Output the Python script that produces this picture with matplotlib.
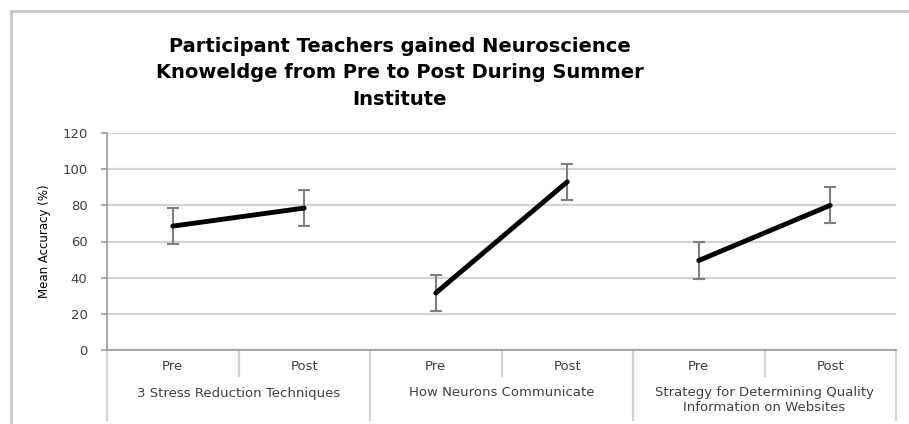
import matplotlib.pyplot as plt
from matplotlib.lines import Line2D
import numpy as np

groups = ["3 Stress Reduction Techniques", "How Neurons Communicate",
          "Strategy for Determining Quality\nInformation on Websites"]
phases = ["Pre", "Post"]
pre_vals = [68.5, 31.5, 49.5]
post_vals = [78.5, 93.0, 80.0]
pre_err = [10, 10, 10]
post_err = [10, 10, 10]
yticks = [0, 20, 40, 60, 80, 100, 120]

W, H = 909, 424
fig = plt.figure(figsize=(W / 100, H / 100), dpi=100)
plt.rcParams['font.family'] = ['DejaVu Sans']

# outer chart border (cut off on the right and bottom)
fig.add_artist(Line2D([11 / W, 11 / W], [1 - 11 / H, -0.05], color="#c8c8c8", lw=2))
fig.add_artist(Line2D([11 / W, 1.05], [1 - 11 / H, 1 - 11 / H], color="#c8c8c8", lw=2))

left, right, top, bottom = 107, 896, 133, 350
ax = fig.add_axes([left / W, 1 - bottom / H, (right - left) / W, (bottom - top) / H])

grid_c = "#d4d4d4"
axis_c = "#9a9a9a"
text_c = "#404040"

for i, g in enumerate(groups):
    xs = [2 * i, 2 * i + 1]
    ys = [pre_vals[i], post_vals[i]]
    es = [pre_err[i], post_err[i]]
    ax.errorbar(xs, ys, yerr=es, fmt="none", ecolor="#7f7f7f", elinewidth=1.5,
                capsize=4, capthick=1.5, zorder=3)
    ax.plot(xs, ys, color="black", lw=3.5, solid_capstyle="round", zorder=4)

ax.set_xlim(-0.5, 5.5)
ax.set_ylim(0, 120)
ax.set_yticks(yticks)
ax.set_yticklabels([str(t) for t in yticks], fontsize=9.5, color=text_c)
ax.set_xticks([])
ax.yaxis.grid(True, color=grid_c, lw=1.6)
ax.set_axisbelow(True)
for s in ["top", "right"]:
    ax.spines[s].set_visible(False)
ax.spines["left"].set_color(axis_c)
ax.spines["bottom"].set_color(axis_c)
ax.spines["left"].set_linewidth(1.2)
ax.spines["bottom"].set_linewidth(1.2)
ax.tick_params(axis="y", length=4, color=axis_c, width=1.2, pad=10)

ax.set_ylabel("Mean Accuracy (%)", fontsize=8.5, labelpad=8)

# category axis below the plot
trans = ax.get_xaxis_transform()
def yax(ypix):
    return (bottom - ypix) / (bottom - top)

for i, g in enumerate(groups):
    for j, p in enumerate(phases):
        ax.text(2 * i + j, yax(367), p, transform=trans, ha="center", va="center",
                fontsize=9.5, color=text_c)
    ax.text(2 * i + 0.5, yax(393) if "\n" not in g else yax(400), g, transform=trans,
            ha="center", va="center", fontsize=9.5, color=text_c, linespacing=1.15)
    # short separator between Pre and Post
    ax.plot([2 * i + 0.5] * 2, [0, yax(376)], transform=trans, color=grid_c,
            lw=1.6, clip_on=False)
for k in range(4):
    ax.plot([2 * k - 0.5] * 2, [0, yax(420)], transform=trans, color=grid_c,
            lw=1.6, clip_on=False)

fig.text(400 / W, 1 - 73 / H,
         "Participant Teachers gained Neuroscience\nKnoweldge from Pre to Post During Summer\nInstitute",
         ha="center", va="center", fontsize=14, fontweight="bold", linespacing=1.5)

fig.savefig("out.png", dpi=100)
